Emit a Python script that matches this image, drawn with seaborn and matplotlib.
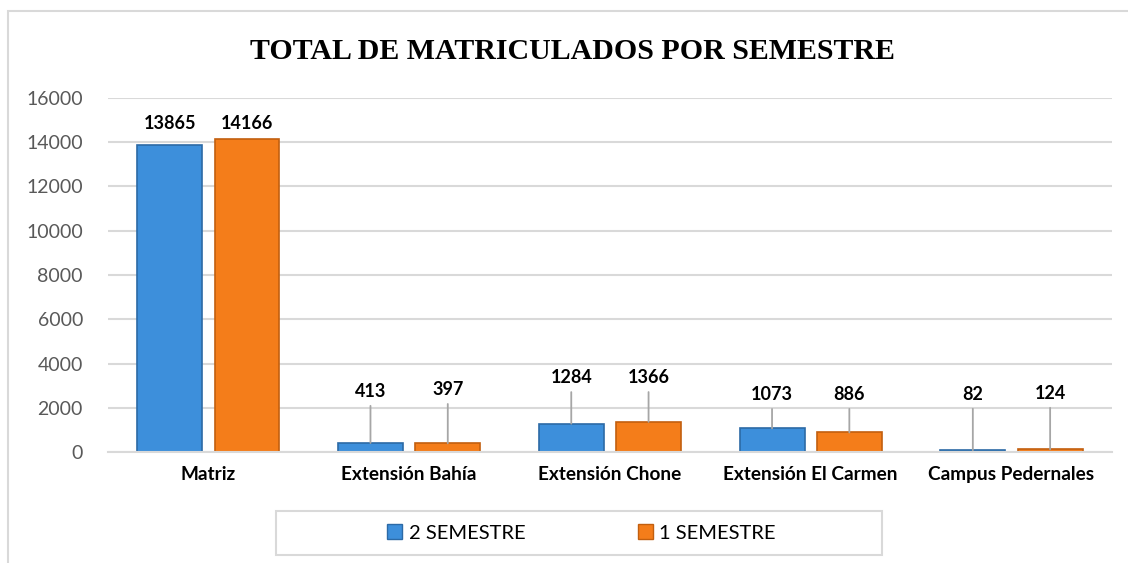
import pandas as pd
import matplotlib.pyplot as plt
import matplotlib.patches as mpatches
import seaborn as sns

# datos del grafico
sedes = ["Matriz", "Extensión Bahía", "Extensión Chone", "Extensión El Carmen", "Campus Pedernales"]
semestre2 = [13865, 413, 1284, 1073, 82]
semestre1 = [14166, 397, 1366, 886, 124]
series = ["2 SEMESTRE", "1 SEMESTRE"]

df = pd.DataFrame({
    "Sede": sedes * 2,
    "Semestre": [series[0]] * len(sedes) + [series[1]] * len(sedes),
    "Total": semestre2 + semestre1,
})

# distancia de la etiqueta sobre cada barra (en unidades del eje)
label_off2 = [600, 1950, 1700, 1150, 2150]
label_off1 = [300, 2050, 1620, 1340, 2150]

sns.set_theme(style="white")
plt.rcParams['font.family'] = ['Lato', 'DejaVu Sans']

colores = {"2 SEMESTRE": "#3D8FDB", "1 SEMESTRE": "#F47D1A"}
bordes = ["#2C6AA6", "#C25F0F"]

fig = plt.figure(figsize=(11.28, 5.63), dpi=100)
ax = fig.add_axes([0.0957, 0.197, 0.89, 0.629])

sns.barplot(data=df, x="Sede", y="Total", hue="Semestre", palette=colores,
            width=0.77, gap=0.16, ax=ax, legend=False, saturation=1)

for cont, borde in zip(ax.containers, bordes):
    for b in cont:
        b.set_edgecolor(borde)
        b.set_linewidth(1.2)

offsets = [label_off2, label_off1]
for cont, vals, offs in zip(ax.containers, [semestre2, semestre1], offsets):
    for b, v, off in zip(cont, vals, offs):
        xc = b.get_x() + b.get_width() / 2
        ytxt = v + off
        if off > 1000:
            ax.annotate(str(v), xy=(xc, v), xytext=(xc, ytxt), ha="center", va="bottom",
                        fontsize=13, fontweight="bold", color="black",
                        arrowprops=dict(arrowstyle="-", color="#A6A6A6", lw=1.3,
                                        shrinkA=2, shrinkB=0))
        else:
            ax.text(xc, ytxt, str(v), ha="center", va="bottom",
                    fontsize=13, fontweight="bold", color="black")

ax.set_ylim(0, 16000)
ax.set_xlim(-0.5, 4.5)
ax.set_yticks(range(0, 16001, 2000))
ax.yaxis.grid(True, color="#D9D9D9", lw=1.5)
ax.set_axisbelow(True)
for s in ax.spines.values():
    s.set_visible(False)
ax.spines["bottom"].set_visible(True)
ax.spines["bottom"].set_color("#D9D9D9")
ax.spines["bottom"].set_linewidth(1.5)
ax.set_xlabel("")
ax.set_ylabel("")
ax.tick_params(axis="y", labelsize=14, labelcolor="#595959", pad=18, length=0)
ax.tick_params(axis="x", labelsize=13.7, labelcolor="black", pad=10, length=0)
for t in ax.get_xticklabels():
    t.set_fontweight("bold")

fig.text(0.5075, 0.909, "TOTAL DE MATRICULADOS POR SEMESTRE", ha="center", va="center",
         fontsize=21.5, fontweight="bold", family="Liberation Serif", color="black")

# leyenda con su caja
handles = [mpatches.Patch(facecolor=colores[s], edgecolor=b, label=s) for s, b in zip(series, bordes)]
leg = fig.legend(handles=handles, loc="center", bbox_to_anchor=(0.5155, 0.053), ncol=2,
                 frameon=False, fontsize=14.5, handlelength=0.75, handleheight=0.75,
                 handletextpad=0.3, columnspacing=5.6)
for t in leg.get_texts():
    t.set_color("black")
fig.patches.append(mpatches.Rectangle((276 / 1128, 1 - 555 / 563), 606 / 1128, 44 / 563,
                                      transform=fig.transFigure, fill=False,
                                      edgecolor="#D9D9D9", lw=1.5))
# borde del area del grafico
fig.patches.append(mpatches.Rectangle((8 / 1128, -0.1), 1.2, 1.1 - 11 / 563,
                                      transform=fig.transFigure, fill=False,
                                      edgecolor="#D9D9D9", lw=1.5))

fig.savefig("out.png", dpi=100)
